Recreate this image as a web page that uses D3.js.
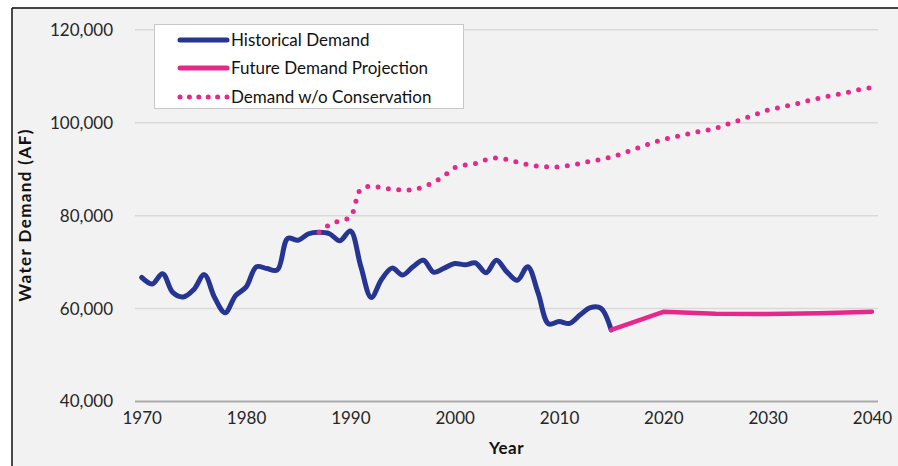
<!DOCTYPE html>
<html><head><meta charset="utf-8">
<script src="https://cdn.jsdelivr.net/npm/d3@7"></script>
<style>
html,body{margin:0;padding:0;background:#fff;}
svg{display:block;}
text{font-family:Lato, "Open Sans", sans-serif;}
</style></head>
<body>
<svg id="chart" width="898" height="466"></svg>
<script>
const histYears = [1970,1971,1972,1973,1974,1975,1976,1977,1978,1979,1980,1981,1982,1983,1984,1985,1986,1987,1988,1989,1990,1991,1992,1993,1994,1995,1996,1997,1998,1999,2000,2001,2002,2003,2004,2005,2006,2007,2008,2009,2010,2011,2012,2013,2014,2015];
const histValues = [66600,65200,67400,63300,62400,64000,67200,62200,59000,62700,64500,68900,68500,68200,75000,74600,76000,76300,76000,74500,76600,69000,62300,66200,68600,67100,68900,70300,67700,68600,69600,69300,69700,67600,70300,67800,66000,68900,63200,56600,57100,56700,58500,60100,60000,55300];
const futureYears = [2015,2020,2025,2030,2035,2040];
const futureValues = [55300,59200,58800,58700,58900,59200];
const noConsYears = [1987,1988,1989,1990,1991,1992,1993,1994,1995,1996,1997,1998,1999,2000,2001,2002,2003,2004,2005,2006,2007,2008,2009,2010,2011,2012,2013,2014,2015,2016,2017,2018,2019,2020,2021,2022,2023,2024,2025,2026,2027,2028,2029,2030,2031,2032,2033,2034,2035,2036,2037,2038,2039,2040];
const noConsValues = [76300,77900,78800,79600,85600,86200,85900,85600,85400,85500,86100,87100,88500,90200,90800,91100,91900,92300,92000,91400,90900,90500,90400,90400,90700,91100,91600,92000,92500,93200,94000,94800,95600,96300,96800,97300,97800,98200,98700,99500,100200,101000,101800,102600,103100,103600,104100,104700,105200,105700,106100,106600,107100,107500];
const yTicks = [40000,60000,80000,100000,120000];
const xTicks = [1970,1980,1990,2000,2010,2020,2030,2040];
const seriesNames = ["Historical Demand","Future Demand Projection","Demand w/o Conservation"];

const navy = "#263592", pink = "#e8278a";
const svg = d3.select("#chart");

// frame
svg.append("rect").attr("x",12).attr("y",8).attr("width",886).attr("height",458).attr("fill","#f2f2f2");
svg.append("line").attr("x1",12).attr("x2",898).attr("y1",8).attr("y2",8).attr("stroke","#444").attr("stroke-width",2);
svg.append("line").attr("x1",12).attr("x2",12).attr("y1",8).attr("y2",466).attr("stroke","#111").attr("stroke-width",1.5);

const x = d3.scaleLinear().domain([1970,2040]).range([141.7,872]);
const y = d3.scaleLinear().domain([40000,120000]).range([401,29.3]);
const gx0 = 135, gx1 = 878;

// grid
const gridAxis = d3.axisLeft(y).tickValues(yTicks).tickSize(-(gx1-gx0)).tickFormat("");
const gg = svg.append("g").attr("transform",`translate(${gx0},0)`).call(gridAxis);
gg.select(".domain").remove();
gg.selectAll(".tick line").attr("stroke",d=>d===40000?"#aaaaaa":"#d9d9d9").attr("stroke-width",d=>d===40000?2:1.5);

// y labels
const yAxis = d3.axisLeft(y).tickValues(yTicks).tickSize(0).tickPadding(0).tickFormat(d3.format(","));
const ya = svg.append("g").attr("transform","translate(113,0)").call(yAxis);
ya.select(".domain").remove();
ya.selectAll("text").attr("font-size",17).attr("fill","#262626").attr("font-family","Lato, sans-serif").attr("dy","0.35em");

// x labels
const xAxis = d3.axisBottom(x).tickValues(xTicks).tickSize(0).tickPadding(0).tickFormat(d3.format("d"));
const xa = svg.append("g").attr("transform","translate(0,412)").call(xAxis);
xa.select(".domain").remove();
xa.selectAll("text").attr("font-size",17).attr("fill","#262626").attr("font-family","Lato, sans-serif").attr("dy","0.71em");

// axis titles
svg.append("text").attr("x",(gx0+gx1)/2).attr("y",454).attr("text-anchor","middle").attr("font-size",17).attr("font-weight","bold").attr("fill","#111").attr("letter-spacing",0.5).text("Year");
svg.append("text").attr("transform","translate(31,215) rotate(-90)").attr("text-anchor","middle").attr("font-size",17).attr("font-weight","bold").attr("fill","#111").attr("letter-spacing",1.4).text("Water Demand (AF)");

// lines
const toPts = (xs,vs)=>xs.map((d,i)=>[d,vs[i]]);
const lineSmooth = d3.line().x(d=>x(d[0])).y(d=>y(d[1])).curve(d3.curveCatmullRom.alpha(0.5));
const lineLin = d3.line().x(d=>x(d[0])).y(d=>y(d[1])).curve(d3.curveLinear);

svg.append("path").datum(toPts(histYears,histValues)).attr("d",lineSmooth).attr("fill","none").attr("stroke",navy).attr("stroke-width",5).attr("stroke-linejoin","round").attr("stroke-linecap","round");
svg.append("path").datum(toPts(noConsYears,noConsValues)).attr("d",lineSmooth).attr("fill","none").attr("stroke",pink).attr("stroke-width",5).attr("stroke-linecap","round").attr("stroke-dasharray","0 10.4");
svg.append("path").datum(toPts(futureYears,futureValues)).attr("d",lineLin).attr("fill","none").attr("stroke",pink).attr("stroke-width",4.5).attr("stroke-linejoin","round").attr("stroke-linecap","round");

// legend
const lg = svg.append("g");
lg.append("rect").attr("x",154.5).attr("y",24.5).attr("width",309).attr("height",84).attr("fill","#fff").attr("stroke","#c8c8c8");
const rowsY = [40,68,97];
seriesNames.forEach((n,i)=>{
  const l = lg.append("line").attr("x1",180).attr("x2",227).attr("y1",rowsY[i]).attr("y2",rowsY[i])
    .attr("stroke",i===0?navy:pink).attr("stroke-width",5).attr("stroke-linecap","round");
  if(i===2) l.attr("stroke-dasharray","0 9.4");
  lg.append("text").attr("x",231).attr("y",rowsY[i]).attr("dy","0.35em").attr("font-size",17).attr("fill","#111").text(n);
});
</script>
</body></html>
